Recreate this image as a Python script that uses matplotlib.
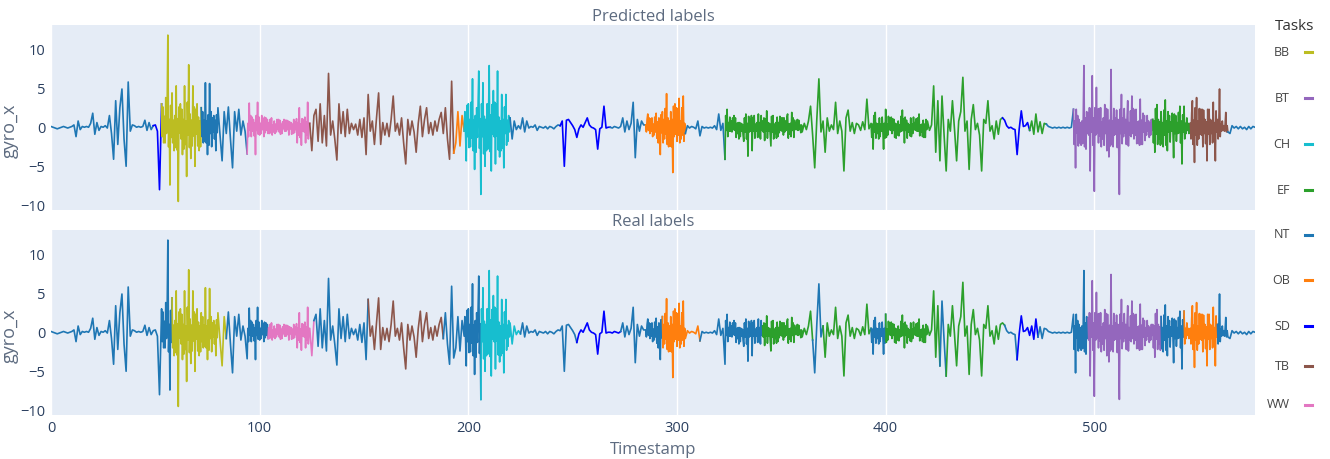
import numpy as np
import matplotlib
matplotlib.use("Agg")
import matplotlib.pyplot as plt
from matplotlib.lines import Line2D

# gyro_x signal, one value per timestamp in blocks
gyro_x_000_053 = [0.1, 0.0, -0.1, -0.2, -0.1, 0.0, 0.1, 0.0, -0.1, 0.0, 0.1,
                  0.3, -1.2, 0.8, -0.3,
                  0.1, 0.0, 0.1, 0.0,
                  0.5, 1.8, -0.9, 0.6, -0.4,
                  0.1, 0.0, 0.2, -0.1,
                  1.5, -0.8, -4.1, 3.4, -2.2, 2.5, 4.9, -1.5, -5.0, 5.8, -0.5, 0.3,
                  0.2, 0.0, 0.1, 0.0, 0.1,
                  0.9, -0.4, 0.6, -0.3, 0.2,
                  0.3, -0.5, -8.0, 3.0]
gyro_x_054_093 = [-2.0, 3.8, 11.8, -7.4, 4.4, -3.0, 5.3, -9.5, 3.0, -3.5,
                  5.3, -6.3, 8.0, -4.0, 5.3, -5.0, 3.0, -3.0, 2.5,
                  -2.0, 5.7, -3.5, 5.6, -2.5, 1.5, -3.0, 2.5, -1.0, -4.3,
                  2.0, -0.8, 2.6, -1.5, -5.2, 2.0, -0.5, 2.3, -1.0, 0.8, -0.5]
gyro_x_094_123 = [-3.4, 3.1, -1.2, 1.0, -3.5, 3.2, -1.0, 1.5, -1.2, 1.2,
                  -0.8, 1.0, -1.0, 0.8, -0.6, 1.0, -0.9, 0.7, -0.5, 0.9,
                  -1.0, 0.6, -0.8, 0.7, -2.0, 2.5, -2.3, 1.0, -2.0, 3.2]
gyro_x_124_193 = [0.5, -3.0, 1.5, 2.3, -1.8, 3.0, -2.0, 1.5, -2.4, 6.9,
                  -1.0, 0.8, -1.5, -4.2, 3.0, -0.8, 2.0, -1.2, 2.3, -0.8,
                  0.5, -0.3, 0.4, -1.0, 1.0, -1.3, 1.2, -3.5, 4.2, -0.5,
                  0.8, -2.2, 1.2, 4.4, -2.2, 0.6, -1.0, 0.5, -1.2, 1.0,
                  4.0, -0.5, 0.5, -1.0, 1.2, -2.0, -4.7, 1.0, -1.0, 0.8,
                  -0.6, -3.2, 0.5, 2.7, -1.2, 1.0, 2.5, -0.8, 0.6, -1.0,
                  0.8, -0.5, 1.0, 1.9, -0.8, 2.5, -1.5, -4.1, 5.9, -3.3]
gyro_x_194_243 = [-2.0, 2.0, -2.4, 1.5, -0.5,
                  -4.3, 3.0, -2.5, 6.2, -5.4, 2.5, 7.2, -8.6, 5.7, -5.0,
                  3.0, 7.9, -5.6, 4.7, -4.7, 7.2, -3.8, 4.2, -5.2, 4.2,
                  -1.8, 1.2,
                  -1.5, 0.8, -0.3, 0.2, -0.2, 1.2, -0.6, 0.8, -0.1, 0.1,
                  0.0, 0.3, -0.4, 0.1, 0.0, -0.1, 0.1, -0.2, 0.1, 0.0,
                  -0.2, 0.1, 0.3]
gyro_x_244_322 = [0.2, 0.8, -5.0, 0.9, 1.0, 0.6, 0.2, -0.3, -1.3, -0.2,
                  0.3, 0.0, 0.6, 1.2, 0.3, 0.0, -0.1, -0.3, -2.8, -0.2,
                  0.0, 2.7, -0.1, 0.0, 0.0,
                  -0.1, 0.1, 0.0, -0.1, 0.1, 1.2, -0.6, 0.8, -0.3, 0.5,
                  3.2, -3.9, 1.0, -0.5, 0.8, 0.3,
                  0.3, 1.7, -0.8, 1.2, -1.0, 1.8, -2.0, -3.5, 2.0, -1.5,
                  4.3, -2.5, 2.0, -5.8, 3.0, -1.8, 3.7, -1.5, 4.0, -0.8,
                  0.2, -0.1, 0.1, 0.0, -0.2, 0.8, -1.1, 0.1, -0.1, 0.0,
                  -0.1, 0.0, -0.1, 0.2, -0.3, 1.7, -0.4, 0.5]
gyro_x_323_392 = [-4.1, 2.3, -0.5, 0.8, -0.3, 1.2, -0.8, 0.6, -0.5, -1.8,
                  1.7, -3.7, 1.0, -3.0, 1.5, -0.5, 1.7, -1.5, 0.8, -1.7,
                  2.1, -0.5, -2.4, 1.5, -0.8, 1.3, -0.7, 1.2, -1.0, 0.8,
                  1.7, -0.9, 1.9, -1.3, 0.6, -0.4, 0.3, -0.6, 0.5, -0.3,
                  0.8, 2.7, -1.0, -5.2, 1.0, 6.2, -0.6, 0.8, -3.2, 1.2,
                  -0.5, 0.3, -0.3, 3.2, -0.8, 0.8, -0.5, -5.6, 1.2, 2.2,
                  -0.5, 0.6, -0.8, 0.5, 0.3, -0.4, 0.7, -0.3, 3.6, -0.2]
gyro_x_393_455 = [0.5, -2.8, 1.9, -0.8, 1.2, -0.5, -2.8, 2.3, -1.0, 1.2,
                  -0.8, 1.0, -1.4, 0.8, -0.6, 2.2, -2.0, 0.9, -0.6, 1.2,
                  -0.8, 0.6, -0.5, 1.7, -0.6, 0.9, -1.3, 0.8, -0.4, 0.3,
                  5.3, -3.2, 3.4, -4.3, 4.0, -1.0, -5.6, 1.0, -0.5, 3.4,
                  -0.3, -4.3, 0.8, 2.0, 6.4, -0.5, 0.8, -5.4, 1.0, 2.9,
                  -0.3, 0.5, -1.0, -5.6, 1.0, 0.5, 3.4, -0.5, 0.2, -1.5,
                  0.8, -0.9, 1.0]
gyro_x_456_489 = [1.2, 0.9, 0.2, -0.1, 0.0, -0.2, -0.3, -3.5, -0.2, 2.1,
                  0.1, 0.2, 0.6,
                  -0.4, 0.8, -0.9, 1.7, -0.6, 0.7, -0.8, 0.5,
                  0.4, 0.1, 0.0, -0.1, 0.0, -0.1, 0.0, -0.1, 0.0, -0.1,
                  0.0, -0.1, 0.0]
gyro_x_490_577 = [2.3, -5.2, 1.5, -2.0, 0.8, 7.9, -2.8, 1.8, -5.6, 6.6,
                  -8.2, 5.1, -2.0, 2.5, -1.5, 2.9, -3.0, -3.8, 7.4, -2.5,
                  1.2, -2.6, -8.6, 4.2, -1.2, 1.0, 3.4, -1.0, 4.0, -1.5,
                  2.3, -2.0, 3.6, -2.2, 1.5, -1.0, 0.8, -1.0,
                  1.0, -3.2, 2.9, -1.5, 2.0, -2.5, 3.5, -3.0, 1.5, -0.5,
                  -3.9, 1.5, -0.8, 2.7, -4.7, 2.7, -0.8, 0.5,
                  0.5, 3.4, -4.5, 3.8, -1.5, 2.3, -2.5, 1.0, -4.3, 2.3,
                  -0.8, 3.2, -4.3, 1.0, 4.9, -0.5, 0.2, 1.9, -0.6,
                  -0.8, 0.2, -0.1, 0.1, -0.2, 0.1, -0.2, 0.0, -0.3, 0.1,
                  -0.2, 0.1, 0.0]

# extra samples inside the dense bursts: two per timestamp gap (at +1/3, +2/3)
fill_bb_053 = [-1.2, 2.6, 1.4, -2.0, -0.8, 2.9, -2.5, 1.0, 2.8, -1.3,
               -2.0, 0.9, 1.5, -2.6, -2.9, 1.1, 2.6, -0.7, -1.5, 2.3,
               1.0, -2.8, -2.2, 0.8, 3.2, -1.0, -2.6, 1.7, 0.9, -2.4,
               -1.1, 2.6, 2.3, -0.9, -2.4, 1.3, 0.8, -2.5]
fill_nt_072 = [-1.2, 2.0, 0.9, -1.8, -2.0, 0.8, 1.6, -2.3, -0.8, 2.0,
               1.2, -0.6, -1.5, 0.9, 1.6, -0.7]
fill_ww_094 = [0.5, -1.2, -0.4, 1.5, 1.3, -0.5, -1.1, 0.6, 1.5, -0.4,
               -0.9, 1.3, 0.5, -0.8, -0.3, 1.1, 1.3, -0.7, -0.4, 1.0,
               0.6, -0.8, -0.7, 1.2, 0.3, -0.6, -0.8, 0.4, 1.0, -0.3,
               -0.6, 0.9, 0.4, -0.8, -0.2, 1.0, 0.9, -0.5, -0.3, 0.8,
               0.7, -0.2, -0.9, 0.4, 1.0, -0.7, -0.3, 1.1, 0.6, -1.0,
               -1.3, 0.4, 1.1, -0.5, -0.6, 1.3, 0.7, -1.0, -1.5, 0.5]
fill_ch_198 = [2.0, -0.8, 2.8, -1.2, -2.6, 1.0, 3.2, -1.4, -3.0, 0.9,
               1.5, -3.2, -1.3, 2.8, -2.7, 1.1, 3.0, -1.2, -3.4, 1.4,
               1.0, -3.0, -2.8, 1.2, -3.1, 1.6, 2.9, -0.9, -1.2, 3.2,
               3.0, -1.1, -2.9, 1.3, 0.8, -3.0, -2.7, 1.0, 2.6, -0.8,
               -2.3, 0.9, 1.5, -0.6]
fill_ob_285 = [-0.6, 1.0, -0.4, 1.2, 1.1, -0.5, -1.2, 0.4, 1.3, -0.6,
               -1.4, 0.7, 1.2, -1.8, 1.6, -0.7, -2.0, 1.0, 2.4, -0.9,
               -2.2, 1.2, 0.8, -2.4, -2.5, 1.0, 2.7, -1.2, -0.9, 2.5,
               2.4, -1.0, -2.0, 0.8, 2.5, -1.0, -1.8, 0.5]
fill_ef_323 = [1.5, -0.4, -1.2, 0.6, 1.3, -0.5, -0.6, 1.2, 1.5, -0.4,
               -1.3, 0.5, 0.6, -1.5, -1.2, 0.5, 0.4, -1.0, 1.2, -0.6,
               -1.5, 0.5, 1.4, -0.6, -0.5, 1.5, 1.2, -0.5, -1.4, 0.4,
               0.6, -1.3, -1.2, 0.6, 1.5, -0.4, -0.6, 1.2, 1.1, -0.5,
               -1.4, 0.6, 0.5, -1.0, 1.4, -0.6, -1.5, 0.4, 0.6, -1.4,
               -1.2, 0.6, 1.4, -0.4, -0.5, 1.2, 1.2, -0.6, -0.4, 1.3,
               -1.4, 0.4, 0.5, -1.2, -0.4, 1.2, 0.9, -0.3, -0.3, 1.0,
               0.9, -0.3, -0.7, 0.3]
fill_ef_393 = [-1.3, 0.4, 1.5, -0.6, -1.4, 0.5, 0.4, -1.5, -1.2, 0.4,
               1.3, -0.5, 0.5, -1.4, -1.3, 0.4, 1.4, -0.3, -0.4, 1.3,
               1.1, -0.4, -1.3, 0.5, 0.4, -1.0, -1.1, 0.3, 1.4, -0.5,
               -0.4, 1.1, 1.3, -0.4, -1.4, 0.5, 0.3, -1.1, -1.2, 0.4,
               1.3, -0.3, -0.4, 1.1, 1.2, -0.5, -1.1, 0.3, 0.4, -1.2,
               -1.3, 0.4, 1.0, -0.3]
fill_bt_490 = [-2.2, 0.8, 2.3, -0.7, -2.4, 1.0, 0.6, -2.3, -2.1, 0.9,
               -2.5, 1.2, 2.0, -0.8, -1.0, 2.5, 2.4, -0.6, -2.3, 1.2,
               2.5, -1.0, -0.7, 2.3, 2.4, -1.1, -2.5, 0.7, 1.2, -2.3,
               -0.8, 2.4, 2.3, -1.0, 0.9, -2.4, -2.2, 0.8, 2.4, -1.0,
               -0.9, 2.2, 1.0, -2.2, 2.3, -0.8, -2.1, 1.2, 2.4, -0.7,
               -2.2, 1.0, -2.4, 0.6, 2.1, -1.2, -0.8, 2.4, 2.2, -1.0,
               -2.1, 0.7, 0.8, -2.3, -2.2, 0.9, 1.8, -0.6, -1.7, 0.6,
               1.5, -0.5, -1.3, 0.5, 1.0, -0.4]
fill_ef_tb_528 = [-2.0, 0.8, 2.4, -0.9, -2.2, 1.0, 0.7, -2.3, -2.1, 0.6,
                  2.2, -1.0, -2.3, 0.8, 2.0, -0.6, -1.9, 0.7, 1.8, -0.5,
                  1.7, -0.8, -1.8, 0.6, 1.9, -0.7, -2.0, 0.8, 1.6, -0.6,
                  -1.5, 0.5, 1.2, -0.4, -0.8, 0.4, -1.5, 1.8, -2.2, 0.9,
                  2.5, -1.0, -2.3, 0.8, 2.4, -0.9, -1.0, 2.3, 2.2, -0.8,
                  -2.1, 0.7, 2.3, -0.9, -2.2, 1.0, 0.8, -2.0, -1.8, 0.6,
                  2.1, -0.6, -1.5, 0.5, -1.2, 0.4, 0.8, -0.3, -0.5, 0.3,
                  -0.6, 0.2]
burst_fills = [(53, fill_bb_053), (72, fill_nt_072), (94, fill_ww_094),
               (198, fill_ch_198), (285, fill_ob_285), (323, fill_ef_323),
               (393, fill_ef_393), (490, fill_bt_490), (528, fill_ef_tb_528)]

gyro_x_main = (gyro_x_000_053 + gyro_x_054_093 + gyro_x_094_123 + gyro_x_124_193
               + gyro_x_194_243 + gyro_x_244_322 + gyro_x_323_392 + gyro_x_393_455
               + gyro_x_456_489 + gyro_x_490_577)
times = list(np.arange(len(gyro_x_main), dtype=float))
values = list(gyro_x_main)
for start, vals in burst_fills:
    for k in range(len(vals) // 2):
        times += [start + k + 1 / 3, start + k + 2 / 3]
        values += [vals[2 * k], vals[2 * k + 1]]
order = np.argsort(times)
timestamp = np.array(times)[order]
gyro_x = np.array(values)[order]

# label runs: (task, first timestamp, last timestamp)
predicted_runs = [("NT", 0, 49), ("SD", 49, 53), ("BB", 53, 72), ("NT", 72, 94),
                  ("WW", 94, 124), ("TB", 124, 193), ("OB", 193, 198), ("CH", 198, 220),
                  ("NT", 220, 244), ("SD", 244, 268), ("NT", 268, 285), ("OB", 285, 304),
                  ("NT", 304, 323), ("EF", 323, 456), ("SD", 456, 469), ("EF", 469, 477),
                  ("NT", 477, 490), ("BT", 490, 528), ("EF", 528, 546), ("TB", 546, 564),
                  ("NT", 564, 577)]
real_runs = [("NT", 0, 58), ("BB", 58, 84), ("NT", 84, 104), ("WW", 104, 126),
             ("NT", 126, 152), ("TB", 152, 188), ("NT", 188, 206), ("CH", 206, 225),
             ("NT", 225, 252), ("SD", 252, 273), ("NT", 273, 293), ("OB", 293, 311),
             ("NT", 311, 341), ("EF", 341, 365), ("NT", 365, 370), ("EF", 370, 393),
             ("NT", 393, 400), ("EF", 400, 426), ("NT", 426, 429), ("EF", 429, 457),
             ("NT", 457, 463), ("SD", 463, 473), ("NT", 473, 497), ("BT", 497, 532),
             ("NT", 532, 543), ("OB", 543, 559), ("NT", 559, 577)]

tasks = ["BB", "BT", "CH", "EF", "NT", "OB", "SD", "TB", "WW"]
task_colors = {"BB": "#bcbd22", "BT": "#9467bd", "CH": "#17becf", "EF": "#2ca02c",
               "NT": "#1f77b4", "OB": "#ff7f0e", "SD": "#0000ff", "TB": "#8c564b",
               "WW": "#e377c2"}

W, H = 1330, 459
plt.rcParams['font.family'] = ['Open Sans', 'DejaVu Sans']
fig = plt.figure(figsize=(W / 100, H / 100), dpi=100)

def px_box(x0, y0, x1, y1):
    return [x0 / W, 1 - y1 / H, (x1 - x0) / W, (y1 - y0) / H]

ax_top = fig.add_axes(px_box(51, 25, 1255, 210))
ax_bot = fig.add_axes(px_box(51, 230, 1255, 415))

tick_col = "#2a3f5f"
title_col = "#5d6b80"
for ax, runs, title in [(ax_top, predicted_runs, "Predicted labels"),
                        (ax_bot, real_runs, "Real labels")]:
    ax.set_facecolor("#E5ECF6")
    for s in ax.spines.values():
        s.set_visible(False)
    for task, a, b in runs:
        m = (timestamp >= a) & (timestamp <= b)
        ax.plot(timestamp[m], gyro_x[m], color=task_colors[task],
                lw=1.2, zorder=3)
    ax.set_xlim(0, 577)
    ax.set_ylim(-10.6, 13.1)
    ax.set_xticks([0, 100, 200, 300, 400, 500])
    ax.set_yticks([-10, -5, 0, 5, 10])
    ax.grid(axis="x", color="white", lw=1.0, zorder=1)
    ax.tick_params(length=0, labelsize=10.5, colors=tick_col, pad=4)
    ax.set_ylabel("gyro_x", fontsize=13, color=title_col)
    ax.yaxis.set_label_coords(-0.027, 0.43)
    ax.set_title(title, fontsize=12, color=title_col, pad=2)

ax_top.tick_params(labelbottom=False)
ax_bot.set_xlabel("Timestamp", fontsize=12, color=title_col, va="center")
ax_bot.xaxis.set_label_coords(0.5, -0.19)

# legend on the right
legend_y_px = [52, 98, 144, 190, 235, 280, 326, 366, 405]
fig.text(1295 / W, 1 - 26 / H, "Tasks", ha="center", va="center",
         fontsize=11, color="#333333")
for task, ypx in zip(tasks, legend_y_px):
    fig.text(1290 / W, 1 - ypx / H, task, ha="right", va="center",
             fontsize=9, color="#444444")
    fig.add_artist(Line2D([1305 / W, 1312 / W], [1 - ypx / H, 1 - ypx / H],
                          color=task_colors[task], lw=2.2))

fig.savefig("out.png", dpi=100)
